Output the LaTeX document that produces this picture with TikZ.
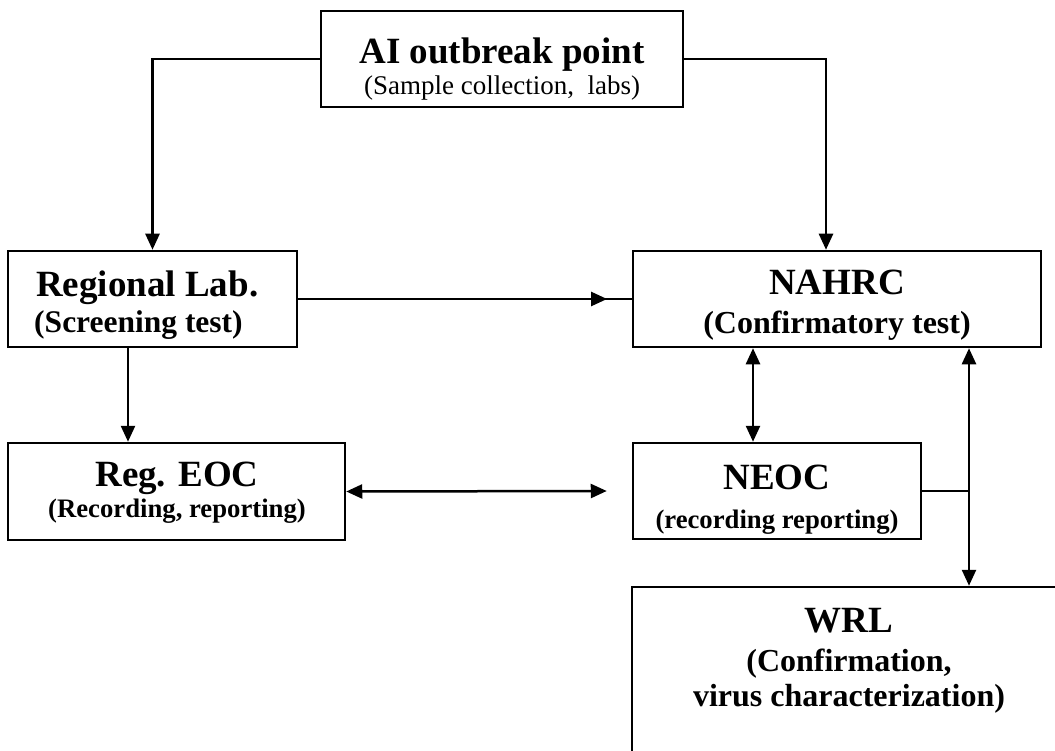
\documentclass[tikz,border=0pt]{standalone}
\usepackage{fontspec}
\setmainfont{Liberation Serif}
\usetikzlibrary{arrows.meta}
\usetikzlibrary{decorations.markings}
\def\mygap{25pt}
\tikzset{
>={Triangle[length=16pt,width=14pt]}, % All arrows with filled triangle tip
my box/.style={draw,rectangle,inner sep=0pt},
my text/.style={inner sep=0pt,anchor=base},
my title/.style={my text,font=\fontsize{37}{40}\selectfont\bfseries},
my sub/.style={my text,font=\fontsize{32}{36}\selectfont\bfseries},
my small/.style={my text,font=\fontsize{26.7}{30}\selectfont\bfseries},
my plain/.style={my text,font=\fontsize{27}{30}\selectfont},
mid arrow/.style={postaction={decorate},
  decoration={markings,mark=at position #1 with {\arrow{>}}}},
}
\begin{document}
\begin{tikzpicture}[x=1pt,y=-1pt,line width=2.5pt]
\useasboundingbox (0,0) rectangle (1055,751);
\clip (0,0) rectangle (1055,751);
% boxes
\node[my box,minimum width=362,minimum height=96] (ai) at (502,59) {};
\node[my box,minimum width=289,minimum height=96] (reglab) at (152.5,299) {};
\node[my box,minimum width=408,minimum height=96] (nahrc) at (837,299) {};
\node[my box,minimum width=337,minimum height=97] (regeoc) at (176.5,491.5) {};
\node[my box,minimum width=288,minimum height=96] (neoc) at (777,491) {};
\node[my box,minimum width=434,minimum height=213] (wrl) at (849,693.5) {};
% texts
\node[my title] (ai-t) at (502,64) {AI outbreak point};
\node[my plain] (ai-s) at (502,95) {(Sample collection,\ \ labs)};
\node[my title,anchor=base west] (reglab-t) at (35,297) {Regional Lab.};
\node[my sub,font=\fontsize{31.5}{36}\selectfont\bfseries,anchor=base west] (reglab-s) at (33,333) {(Screening test)};
\node[my title] (nahrc-t) at (837,295) {NAHRC};
\node[my sub] (nahrc-s) at (837,334) {(Confirmatory test)};
\node[my title] (regeoc-t) at (177,486) {Reg. EOC};
\node[my small] (regeoc-s) at (177,517) {(Recording, reporting)};
\node[my title] (neoc-t) at (777,489) {NEOC};
\node[my small] (neoc-s) at (777,528) {(recording reporting)};
\node[my title] (wrl-t) at (849,632) {WRL};
\node[my sub] (wrl-s1) at (849,671) {(Confirmation,};
\node[my sub] (wrl-s2) at (849,706) {virus characterization)};
% helper points
\coordinate (down) at ([xshift=-24.5pt]reglab.south);
\coordinate (gap) at ([xshift=-\mygap]neoc.west);
\coordinate (link) at ([xshift=-24pt]neoc.north);
\coordinate (spine) at ([xshift=120pt]wrl.north);
% connectors
\draw[->] (ai.west) -| (reglab.north);
\draw[->] (ai.east) -| ([xshift=-11pt]nahrc.north);
\draw[mid arrow=0.926] (reglab.east) -- (nahrc.west);
\draw[->] (down) -- (down |- regeoc.north);
\draw[<->] (regeoc.east) -- (gap);
\draw[<->] (link |- nahrc.south) -- (link);
\draw[<->] (spine |- nahrc.south) -- (spine);
\draw (neoc.east) -- (neoc.east -| spine);
\end{tikzpicture}
\end{document}
